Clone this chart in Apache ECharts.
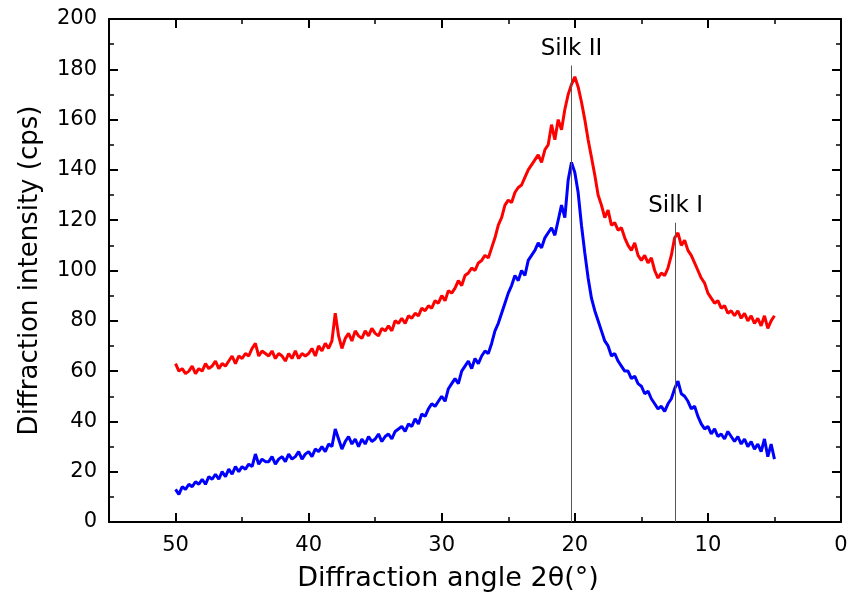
<!DOCTYPE html>
<html>
<head>
<meta charset="utf-8">
<script src="https://cdn.jsdelivr.net/npm/echarts@6/dist/echarts.min.js"></script>
<style>
  html, body { margin: 0; padding: 0; background: #fff; }
  #chart { width: 847px; height: 594px; }
</style>
</head>
<body>
<div id="chart"></div>
<script>
  // diffraction angle 2theta, 50 -> 5 deg
  var angles = [
    50, 49.75, 49.5, 49.25, 49, 48.75, 48.5, 48.25, 48, 47.75, 47.5, 47.25,
    47, 46.75, 46.5, 46.25, 46, 45.75, 45.5, 45.25, 45, 44.75, 44.5, 44.25,
    44, 43.75, 43.5, 43.25, 43, 42.75, 42.5, 42.25, 42, 41.75, 41.5, 41.25,
    41, 40.75, 40.5, 40.25, 40, 39.75, 39.5, 39.25, 39, 38.75, 38.5, 38.25,
    38, 37.75, 37.5, 37.25, 37, 36.75, 36.5, 36.25, 36, 35.75, 35.5, 35.25,
    35, 34.75, 34.5, 34.25, 34, 33.75, 33.5, 33.25, 33, 32.75, 32.5, 32.25,
    32, 31.75, 31.5, 31.25, 31, 30.75, 30.5, 30.25, 30, 29.75, 29.5, 29.25,
    29, 28.75, 28.5, 28.25, 28, 27.75, 27.5, 27.25, 27, 26.75, 26.5, 26.25,
    26, 25.75, 25.5, 25.25, 25, 24.75, 24.5, 24.25, 24, 23.75, 23.5, 23.25,
    23, 22.75, 22.5, 22.25, 22, 21.75, 21.5, 21.25, 21, 20.75, 20.5, 20.25,
    20, 19.75, 19.5, 19.25, 19, 18.75, 18.5, 18.25, 18, 17.75, 17.5, 17.25,
    17, 16.75, 16.5, 16.25, 16, 15.75, 15.5, 15.25, 15, 14.75, 14.5, 14.25,
    14, 13.75, 13.5, 13.25, 13, 12.75, 12.5, 12.25, 12, 11.75, 11.5, 11.25,
    11, 10.75, 10.5, 10.25, 10, 9.75, 9.5, 9.25, 9, 8.75, 8.5, 8.25,
    8, 7.75, 7.5, 7.25, 7, 6.75, 6.5, 6.25, 6, 5.75, 5.5, 5.25, 5
  ];
  // upper trace (red)
  var redIntensity = [
    63, 60, 61, 59, 60, 62, 59, 61, 60, 63, 61, 62,
    64, 61, 63, 62, 64, 66, 63, 66, 65, 67, 66, 69,
    71, 66, 68, 67, 66, 68, 65, 67, 66, 64, 67, 65,
    68, 65, 67, 66, 67, 69, 66, 70, 68, 71, 69, 72,
    83, 74, 69, 73, 75, 72, 76, 74, 73, 76, 74, 77,
    75, 74, 77, 76, 78, 76, 80, 79, 81, 79, 82, 81,
    83, 82, 85, 84, 86, 85, 88, 87, 90, 88, 92, 91,
    93, 96, 94, 98, 99, 101, 100, 103, 104, 106, 105, 109,
    113, 118, 121, 126, 128, 127, 131, 133, 134, 137, 140, 142,
    144, 146, 143, 148, 150, 158, 152, 160, 156, 164, 170, 174,
    177, 173, 167, 160, 152, 145, 138, 130, 126, 121, 124, 118,
    119, 116, 117, 113, 110, 108, 111, 106, 104, 106, 103, 105,
    100, 97, 99, 98, 101, 106, 113, 115, 110, 112, 108, 106,
    103, 100, 97, 95, 91, 89, 87, 88, 85, 86, 83, 84,
    82, 84, 81, 83, 80, 82, 79, 81, 78, 82, 77, 80, 82
  ];
  // lower trace (blue)
  var blueIntensity = [
    13, 11, 14, 13, 15, 14, 16, 15, 17, 15, 18, 17,
    19, 17, 20, 18, 21, 19, 22, 20, 22, 21, 23, 22,
    27, 23, 25, 24, 24, 26, 23, 25, 26, 24, 27, 25,
    26, 28, 25, 27, 28, 26, 29, 28, 30, 28, 31, 30,
    37, 33, 29, 32, 34, 31, 33, 30, 33, 31, 34, 32,
    33, 35, 32, 34, 35, 33, 36, 37, 38, 36, 39, 38,
    41, 39, 43, 42, 45, 47, 46, 48, 50, 48, 53, 55,
    57, 55, 60, 62, 64, 61, 65, 63, 66, 68, 67, 71,
    76, 79, 83, 87, 91, 94, 98, 96, 100, 98, 104, 106,
    108, 111, 109, 113, 115, 117, 114, 120, 126, 121, 136, 143,
    139, 131, 118, 107, 97, 89, 84, 80, 76, 72, 70, 66,
    67, 64, 62, 60, 60, 57, 58, 55, 54, 51, 52, 49,
    47, 45, 46, 44, 47, 49, 53, 56, 51, 50, 48, 45,
    46, 42, 39, 37, 38, 35, 37, 34, 35, 33, 36, 34,
    32, 34, 31, 33, 30, 32, 29, 31, 28, 33, 26, 31, 25
  ];
  // peak markers
  var peakNames = ['Silk II', 'Silk I'];
  var peakAngles = [20.25, 12.43];
  var peakLineTops = [181.5, 119];

  var fontName = 'DejaVu Sans';

  function pairs(ys) {
    return angles.map(function (a, i) { return [a, ys[i]]; });
  }

  var peakLines = peakNames.map(function (n, i) {
    return [
      { coord: [peakAngles[i], 0] },
      { coord: [peakAngles[i], peakLineTops[i]], label: { formatter: n } }
    ];
  });

  var axisCommon = {
    axisLine: { show: true, onZero: false, lineStyle: { color: '#000', width: 2 } },
    axisTick: { show: true, inside: true, length: 9, lineStyle: { color: '#000', width: 2 } },
    minorTick: { show: true, splitNumber: 2, length: 5, lineStyle: { color: '#000', width: 1.5 } },
    splitLine: { show: false },
    minorSplitLine: { show: false }
  };

  function xAxis(pos, showLabels) {
    return Object.assign({
      type: 'value', position: pos, min: 0, max: 55, interval: 10, inverse: true,
      axisLabel: {
        show: showLabels, showMaxLabel: false, margin: 13,
        color: '#000', fontFamily: fontName, fontSize: 21
      }
    }, axisCommon, showLabels ? {
      name: 'Diffraction angle 2\u03b8(\u00b0)', nameLocation: 'middle', nameGap: 43,
      nameTextStyle: {
        color: '#000', fontFamily: fontName, fontSize: 27,
        padding: [0, 54, 0, 0]
      }
    } : {});
  }

  function yAxis(pos, showLabels) {
    return Object.assign({
      type: 'value', position: pos, min: 0, max: 200, interval: 20,
      axisLabel: {
        show: showLabels, margin: 12,
        color: '#000', fontFamily: fontName, fontSize: 21
      }
    }, axisCommon, showLabels ? {
      name: 'Diffraction intensity (cps)', nameLocation: 'middle', nameGap: 66,
      nameTextStyle: { color: '#000', fontFamily: fontName, fontSize: 26 }
    } : {});
  }

  var chart = echarts.init(document.getElementById('chart'));
  chart.setOption({
    backgroundColor: '#fff',
    animation: false,
    grid: { left: 109, right: 6, top: 19, bottom: 72, containLabel: false, outerBoundsMode: 'none' },
    xAxis: [xAxis('bottom', true), xAxis('top', false)],
    yAxis: [yAxis('left', true), yAxis('right', false)],
    series: [
      {
        type: 'line', xAxisIndex: 0, yAxisIndex: 0,
        data: pairs(redIntensity), showSymbol: false,
        lineStyle: { color: '#ff0000', width: 3 },
        itemStyle: { color: '#ff0000' },
        markLine: {
          silent: true, symbol: ['none', 'none'],
          lineStyle: { color: '#555', width: 1, type: 'solid' },
          label: {
            show: true, position: 'end', distance: 5,
            color: '#000', fontFamily: fontName, fontSize: 23
          },
          data: peakLines
        }
      },
      {
        type: 'line', xAxisIndex: 0, yAxisIndex: 0,
        data: pairs(blueIntensity), showSymbol: false,
        lineStyle: { color: '#0000ff', width: 3 },
        itemStyle: { color: '#0000ff' }
      }
    ]
  });
  window.addEventListener('resize', chart.resize);
</script>
</body>
</html>
